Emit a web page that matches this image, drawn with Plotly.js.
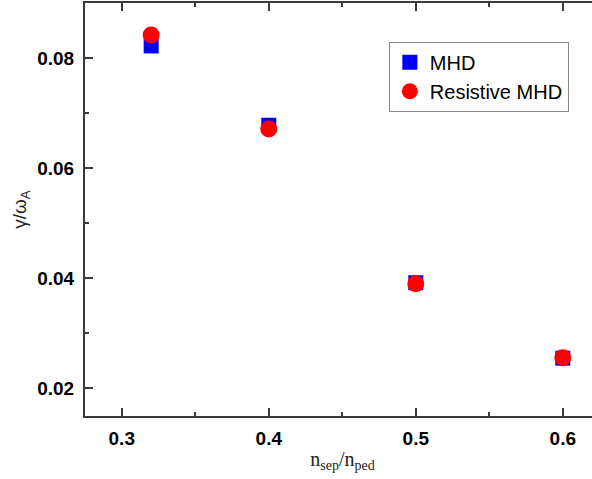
<!DOCTYPE html>
<html>
<head>
<meta charset="utf-8">
<script src="https://cdn.plot.ly/plotly-3.0.1.min.js"></script>
<style>
html,body{margin:0;padding:0;overflow:hidden;background:#fff;}
#chart{width:604px;height:479px;}
</style>
</head>
<body>
<div id="chart"></div>
<script>
const xRatio = [0.32, 0.4, 0.5, 0.6];
const mhdGrowth = [0.0822, 0.0678, 0.0392, 0.0255];
const resistiveGrowth = [0.0842, 0.0671, 0.0390, 0.0256];
const seriesNames = ["MHD", "Resistive MHD"];

const axisColor = "#3a3a3a";
const tickFont = {family: "Liberation Sans, Arial, sans-serif", size: 19, color: "#000", weight: "bold"};

const traces = [
  {x: xRatio, y: mhdGrowth, name: seriesNames[0], type: "scatter", mode: "markers",
   marker: {symbol: "square", size: 15, color: "#0000ff"}},
  {x: xRatio, y: resistiveGrowth, name: seriesNames[1], type: "scatter", mode: "markers",
   marker: {symbol: "circle", size: 17, color: "#ff0000"}}
];

const layout = {
  width: 604, height: 479,
  margin: {l: 85, r: 4, t: 3, b: 63},
  paper_bgcolor: "#fff", plot_bgcolor: "#fff",
  showlegend: true,
  legend: {x: 0.59, y: 0.906, xanchor: "left", yanchor: "top",
    bordercolor: "#888", borderwidth: 1, bgcolor: "#fff",
    font: {family: "Liberation Sans, Arial, sans-serif", size: 20, color: "#000"},
    tracegroupgap: 0, itemwidth: 30},
  xaxis: {
    range: [0.275, 0.6253], tickvals: [0.3, 0.4, 0.5, 0.6], ticktext: ["0.3", "0.4", "0.5", "0.6"],
    showgrid: false, zeroline: false, showline: true, linecolor: axisColor, linewidth: 2,
    mirror: "ticks", ticks: "inside", ticklen: 8, tickwidth: 2, tickcolor: axisColor,
    minor: {dtick: 0.05, tick0: 0.3, ticks: "inside", ticklen: 4, tickwidth: 2, tickcolor: axisColor, showgrid: false},
    tickfont: tickFont, ticklabelstandoff: 4,
    title: {text: "n<sub>sep</sub>/n<sub>ped</sub>", font: {family: "Liberation Serif, Times New Roman, serif", size: 20, color: "#222"}, standoff: 4}
  },
  yaxis: {
    range: [0.015, 0.09], tickvals: [0.02, 0.04, 0.06, 0.08], ticktext: ["0.02", "0.04", "0.06", "0.08"],
    showgrid: false, zeroline: false, showline: true, linecolor: axisColor, linewidth: 2,
    mirror: "ticks", ticks: "inside", ticklen: 8, tickwidth: 2, tickcolor: axisColor,
    minor: {dtick: 0.01, tick0: 0.02, ticks: "inside", ticklen: 4, tickwidth: 2, tickcolor: axisColor, showgrid: false},
    tickfont: tickFont, ticklabelstandoff: 5,
    title: {text: "γ/ω<sub>A</sub>", font: {family: "Liberation Sans, Arial, sans-serif", size: 19, color: "#222"}, standoff: 6}
  }
};

Plotly.newPlot("chart", traces, layout, {displayModeBar: false, staticPlot: true});
</script>
</body>
</html>
